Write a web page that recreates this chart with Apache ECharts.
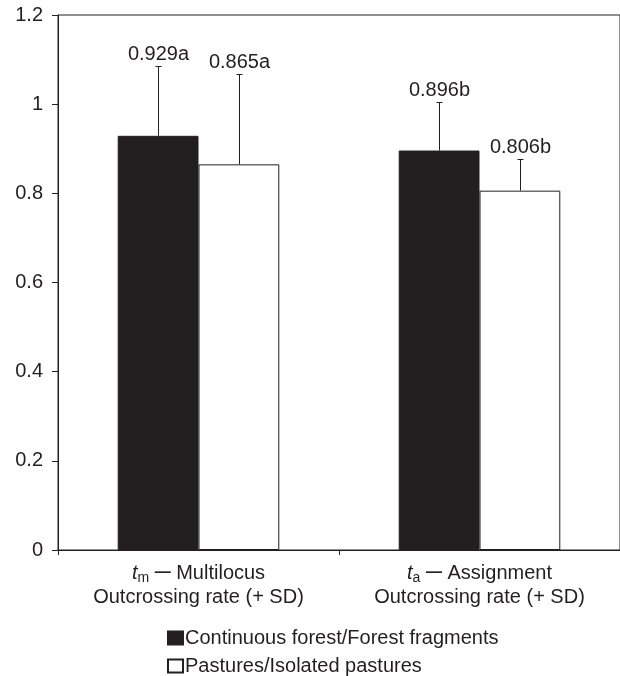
<!DOCTYPE html>
<html>
<head>
<meta charset="utf-8">
<script src="https://cdn.jsdelivr.net/npm/echarts@6/dist/echarts.min.js"></script>
<style>
html,body{margin:0;padding:0;background:#fff;}
#chart{width:620px;height:676px;}
</style>
</head>
<body>
<div id="chart"></div>
<script>
// ---- data ----
var categoryNames = ['Multilocus', 'Assignment'];
var categorySymbols = ['t', 't'];
var categorySubs = ['m', 'a'];
var categorySecondLine = ['Outcrossing rate (+ SD)', 'Outcrossing rate (+ SD)'];
var seriesNames = ['Continuous forest/Forest fragments', 'Pastures/Isolated pastures'];
var forestMeans = [0.929, 0.896];
var pastureMeans = [0.865, 0.806];
var forestSD = [0.156, 0.109];
var pastureSD = [0.203, 0.070];
var forestLetters = ['a', 'b'];
var pastureLetters = ['a', 'b'];
var yTicks = { min: 0, max: 1.2, interval: 0.2 };

var INK = '#231f20';
var FONT = '"Liberation Sans", Arial, Helvetica, sans-serif';
var FS = 20;
var GAP_RATIO = 0.425;

var errData = [];
for (var i = 0; i < categoryNames.length; i++) {
  errData.push([i, forestMeans[i], forestSD[i], 0, forestLetters[i]]);
  errData.push([i, pastureMeans[i], pastureSD[i], 1, pastureLetters[i]]);
}

var chart = echarts.init(document.getElementById('chart'), null, { renderer: 'canvas' });
chart.setOption({
  backgroundColor: '#fff',
  animation: false,
  textStyle: { fontFamily: FONT, color: INK },
  grid: { left: 58, top: 15, right: -3, bottom: 126, show: true, borderColor: INK, borderWidth: 1, backgroundColor: 'transparent' },
  legend: {
    data: seriesNames,
    orient: 'vertical',
    left: 167,
    top: 628,
    padding: 0,
    itemWidth: 15,
    itemHeight: 13,
    itemGap: 8,
    icon: 'rect',
    textStyle: { fontFamily: FONT, fontSize: FS, color: INK, lineHeight: 20, padding: [0, 0, 0, -3] },
    selectedMode: false
  },
  xAxis: {
    type: 'category',
    data: categoryNames,
    axisLine: { lineStyle: { color: INK, width: 1 } },
    axisTick: { show: true, length: 5, lineStyle: { color: INK } },
    axisLabel: {
      interval: 0,
      margin: 11,
      fontFamily: FONT,
      fontSize: FS,
      color: INK,
      lineHeight: 24,
      formatter: function (v, idx) {
        return '{it|' + categorySymbols[idx] + '}{sub|' + categorySubs[idx] + '}{n| }{d|\u2014}{n| ' + v + '}\n{n|' + categorySecondLine[idx] + '}';
      },
      rich: {
        it: { fontStyle: 'italic', fontSize: FS, fontFamily: FONT, color: INK, lineHeight: 24 },
        sub: { fontSize: 14, fontFamily: FONT, color: INK, verticalAlign: 'bottom' },
        d: { fontSize: 16, fontWeight: 'bold', fontFamily: FONT, color: INK, lineHeight: 24 },
        n: { fontSize: FS, fontFamily: FONT, color: INK, lineHeight: 24 }
      }
    },
    splitLine: { show: false }
  },
  yAxis: {
    type: 'value',
    min: yTicks.min,
    max: yTicks.max,
    interval: yTicks.interval,
    axisLine: { show: true, lineStyle: { color: INK, width: 1 } },
    axisTick: { show: true, length: 6, lineStyle: { color: INK } },
    axisLabel: { margin: 15, fontFamily: FONT, fontSize: FS, color: INK },
    splitLine: { show: false }
  },
  series: [
    {
      name: seriesNames[0], type: 'bar', data: forestMeans,
      barGap: '0%', barCategoryGap: (GAP_RATIO * 100) + '%',
      itemStyle: { color: INK, borderColor: INK, borderWidth: 1 }
    },
    {
      name: seriesNames[1], type: 'bar', data: pastureMeans,
      barGap: '0%', barCategoryGap: (GAP_RATIO * 100) + '%',
      itemStyle: { color: '#fff', borderColor: INK, borderWidth: 1 }
    },
    {
      type: 'custom',
      z: 5,
      data: errData,
      encode: { x: 0, y: 1 },
      renderItem: function (params, api) {
        var ci = api.value(0), mean = api.value(1), sd = api.value(2), s = api.value(3);
        var letter = errData[params.dataIndex][4];
        var band = api.size([1, 0])[0];
        var bw = band * (1 - GAP_RATIO) / 2;
        var cx = Math.round(api.coord([ci, 0])[0] + (s === 0 ? -bw / 2 : bw / 2)) + 0.5;
        var yTop = Math.round(api.coord([ci, mean + sd])[1]) + 0.5;
        var yBar = api.coord([ci, mean])[1];
        var cap = 3;
        return {
          type: 'group',
          children: [
            { type: 'line', shape: { x1: cx, y1: yBar, x2: cx, y2: yTop }, style: { stroke: INK, lineWidth: 1 } },
            { type: 'line', shape: { x1: cx - cap, y1: yTop, x2: cx + cap, y2: yTop }, style: { stroke: INK, lineWidth: 1 } },
            { type: 'text', x: cx, y: yTop - 2, style: { text: mean.toFixed(3) + letter, fill: INK, font: FS + 'px ' + FONT, textAlign: 'center', textVerticalAlign: 'bottom' } }
          ]
        };
      }
    }
  ]
});
</script>
</body>
</html>
